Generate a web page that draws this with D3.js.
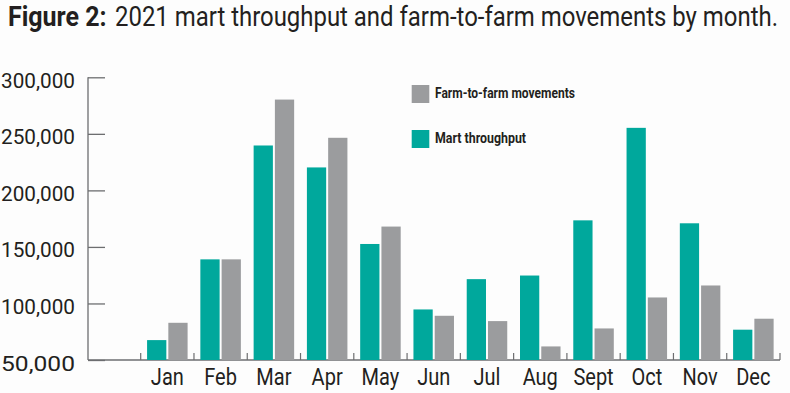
<!DOCTYPE html>
<html>
<head>
<meta charset="utf-8">
<script src="https://cdn.jsdelivr.net/npm/d3@7"></script>
<style>
html,body{margin:0;padding:0;background:#fdfdfd;}
svg{display:block;}
</style>
</head>
<body>
<svg id="chart" width="790" height="393"></svg>
<script>
const months = ["Jan","Feb","Mar","Apr","May","Jun","Jul","Aug","Sept","Oct","Nov","Dec"];
const martThroughput = [67600,139000,239700,220300,152600,94700,121500,124700,173500,255300,170900,76800];
const farmToFarm = [82900,139000,280300,246500,168000,89100,84400,62000,77900,105300,115900,86500];
const yTickValues = [50000,100000,150000,200000,250000,300000];
const seriesNames = ["Mart throughput","Farm-to-farm movements"];
const titleBold = "Figure 2:";
const titleRest = "2021 mart throughput and farm-to-farm movements by month.";

const teal = "#00a89c", grey = "#9b9c9e", ink = "#231f20", axisCol = "#6d6e70";
const svg = d3.select("#chart");
const font = "Roboto, 'DejaVu Sans Condensed', sans-serif";

// title: condensed look via vertical stretch, width fitted to natural size
const tg = svg.append("g").attr("transform","translate(0,26) scale(1,1.14)");
const tb = tg.append("text").attr("x",8).attr("y",0).attr("font-family",font)
  .attr("font-weight",700).attr("font-size",25).attr("fill",ink).text(titleBold);
tb.attr("textLength", Math.min(99, tb.node().getComputedTextLength())).attr("lengthAdjust","spacingAndGlyphs");
const tr = tg.append("text").attr("x",115).attr("y",0).attr("font-family",font)
  .attr("font-weight",400).attr("font-size",24).attr("fill",ink).text(titleRest);
tr.attr("textLength", Math.min(663, tr.node().getComputedTextLength())).attr("lengthAdjust","spacingAndGlyphs");

// scales
const y = d3.scaleLinear().domain([50000,300000]).range([360,77.3]);
const x = d3.scaleBand().domain(months).range([140.7,780]).paddingInner(0).paddingOuter(0);
const xs = d3.scaleBand().domain(seriesNames).range([0,x.bandwidth()]).paddingInner(0.094).paddingOuter(0.3);

// y axis
const yAxis = d3.axisRight(y).tickValues(yTickValues).tickSize(17).tickFormat("");
const gy = svg.append("g").attr("transform","translate(88,0)").call(yAxis);
gy.select(".domain").remove();
gy.selectAll(".tick line").attr("stroke",axisCol).attr("stroke-width",1.3);
svg.append("line").attr("x1",88).attr("x2",88).attr("y1",y(300000)).attr("y2",y(50000))
  .attr("stroke",axisCol).attr("stroke-width",1.3);
// y labels
svg.append("g").selectAll("text").data(yTickValues).join("text")
  .attr("x",75).attr("y",d=>y(d)+10.5).attr("text-anchor","end")
  .attr("font-family",font).attr("font-size",21).attr("fill",ink)
  .text(d=>d3.format(",")(d))
  .each(function(){ d3.select(this).attr("textLength",74).attr("lengthAdjust","spacingAndGlyphs"); });

// x axis line
svg.append("line").attr("x1",88).attr("x2",780).attr("y1",360).attr("y2",360)
  .attr("stroke",axisCol).attr("stroke-width",1.3);
// boundary ticks
const bounds = months.map(m=>x(m)).concat([x.range()[1]]);
svg.append("g").selectAll("line").data(bounds).join("line")
  .attr("x1",d=>d).attr("x2",d=>d).attr("y1",360).attr("y2",353)
  .attr("stroke",axisCol).attr("stroke-width",1.2);

// bars
const data = months.map((m,i)=>({m, vals:[martThroughput[i], farmToFarm[i]]}));
const colors = [teal, grey];
const groups = svg.append("g").selectAll("g").data(data).join("g")
  .attr("transform",d=>`translate(${x(d.m)},0)`);
groups.selectAll("rect").data(d=>d.vals.map((v,k)=>({v,k}))).join("rect")
  .attr("x",d=>xs(seriesNames[d.k]))
  .attr("width",xs.bandwidth())
  .attr("y",d=>y(d.v))
  .attr("height",d=>y(50000)-y(d.v))
  .attr("fill",d=>colors[d.k]);

// month labels
svg.append("g").selectAll("text").data(months).join("text")
  .attr("x",d=>x(d)+x.bandwidth()/2).attr("y",384.5).attr("text-anchor","middle")
  .attr("font-family",font).attr("font-size",23).attr("fill",ink)
  .text(d=>d)
  .each(function(){
    const el = d3.select(this);
    const w = this.getComputedTextLength()*0.87;
    el.attr("textLength",w).attr("lengthAdjust","spacingAndGlyphs");
  });

// legend
const legend = [
  {name: seriesNames[1], color: grey, y: 85, w: 140},
  {name: seriesNames[0], color: teal, y: 130, w: 91}
];
const lg = svg.append("g").selectAll("g").data(legend).join("g");
lg.append("rect").attr("x",411.7).attr("y",d=>d.y).attr("width",17.6).attr("height",18).attr("fill",d=>d.color);
lg.append("text").attr("x",435).attr("y",d=>d.y+13).attr("font-family",font)
  .attr("font-weight",700).attr("font-size",14).attr("fill",ink).text(d=>d.name)
  .each(function(d){ d3.select(this).attr("textLength",d.w).attr("lengthAdjust","spacingAndGlyphs"); });
</script>
</body>
</html>
